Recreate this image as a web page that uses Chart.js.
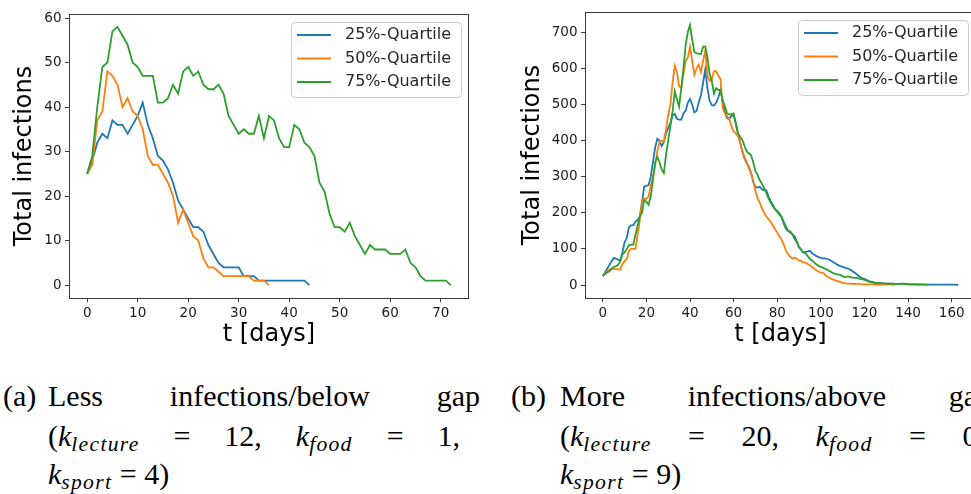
<!DOCTYPE html>
<html lang="en">
<head>
<meta charset="UTF-8">
<title>Total infections per quartile</title>
<script src="https://cdn.jsdelivr.net/npm/chart.js"></script>
<style>
  html, body { margin: 0; padding: 0; background: #fff; overflow: hidden; }
  body { width: 971px; height: 494px; position: relative; }
  .plot { position: absolute; top: 0; }
  .cap {
    position: absolute;
    font-family: "Liberation Serif", "Times New Roman", serif;
    font-size: 30px;
    line-height: 30px;
    color: #000;
    white-space: nowrap;
  }
  .row { display: flex; justify-content: space-between; }
  .cap sub {
    font-size: 0.72em;
    font-style: italic;
    vertical-align: -0.22em;
    line-height: 0;
    letter-spacing: 0.06em;
  }
</style>
</head>
<body>
  <div class="plot" style="left:0px"><canvas id="chartLess" width="480" height="360"></canvas></div>
  <div class="plot" style="left:490px"><canvas id="chartMore" width="500" height="360"></canvas></div>

  <!-- captions (a) -->
  <div class="cap" style="left:3px; top:381px">(a)</div>
  <div class="cap row" style="left:48px; top:381px; width:432px"><span>Less</span><span>infections/below</span><span>gap</span></div>
  <div class="cap row" style="left:48px; top:421px; width:412px"><span>(<i>k</i><sub>lecture</sub></span><span>=</span><span>12,</span><span><i>k</i><sub>food</sub></span><span>=</span><span>1,</span></div>
  <div class="cap" style="left:48px; top:459px"><i>k</i><sub>sport</sub> = 4)</div>

  <!-- captions (b) -->
  <div class="cap" style="left:511px; top:381px">(b)</div>
  <div class="cap row" style="left:560px; top:381px; width:432px"><span>More</span><span>infections/above</span><span>gap</span></div>
  <div class="cap row" style="left:560px; top:421px; width:425px"><span>(<i>k</i><sub>lecture</sub></span><span>=</span><span>20,</span><span><i>k</i><sub>food</sub></span><span>=</span><span>0,</span></div>
  <div class="cap" style="left:560px; top:459px"><i>k</i><sub>sport</sub> = 9)</div>

<script>
// series names and colours (matplotlib defaults)
const seriesNames = ['25%-Quartile', '50%-Quartile', '75%-Quartile'];
const seriesColors = ['#1f77b4', '#ff7f0e', '#2ca02c'];

// (a) less infections: one value per day, starting at day 0
const lessQ25 = [25,28,32,34,33,37,36,36,34,36, 38,41,36,33,29,28,26,23,19,17,
  15,13,13,12,9,7,5,4,4,4, 4,2,2,2,1,1,1,1,1,1, 1,1,1,1,0];
const lessQ50 = [25,27,37,39,48,47,45,40,42,39, 38,35,29,27,27,25,23,20,14,17,
  14,11,10,6,4,4,3,2,2,2, 2,2,2,1,1,1,0];
const lessQ75 = [25,29,40,49,50,57,58,56,54,50, 49,47,47,47,41,41,42,45,43,48,
  49,47,48,45,44,44,45,43,38,36, 34,35,34,34,38,33,38,37,33,31,
  31,36,35,32,31,29,23,21,16,13, 13,12,14,11,9,7,9,8,8,8,
  7,7,7,8,5,4,2,1,1,1, 1,1,0];
const lessXTicks = [0, 10, 20, 30, 40, 50, 60, 70];
const lessYTicks = [0, 10, 20, 30, 40, 50, 60];

// (b) more infections
const moreQ25 = [25,35,45,55,65,75,73,70,68,90, 118,130,160,165,166,175,180,190,230,272,
  275,276,300,340,380,405,400,385,395,420, 435,448,470,474,460,458,458,475,482,505,
  515,500,478,482,505,525,560,597,545,510, 498,497,505,520,540,510,480,462,460,468,
  470,450,418,395,370,350,338,328,310,285, 272,270,272,265,262,262,245,232,222,210,
  205,198,188,170,155,150,148,140,128,118, 105,98,90,92,93,95,88,84,80,77,
  75,74,74,72,70,66,62,58,55,52, 50,48,46,44,40,36,32,27,22,18,
  17,14,11,9,8,6,6,5,5,4, 4,4,4,4,3,3,3,4,4,3,
  3,2,2,2,2,2,2,2,1,1, 1,1,1,1,1,1,1,1,1,1, 1,1,1,0];
const moreQ50 = [25,32,38,42,46,45,44,43,42,58, 66,72,95,100,100,100,140,180,235,240,
  238,245,275,300,330,370,395,400,398,430, 470,500,560,607,590,550,545,585,620,630,
  660,620,582,600,610,590,620,650,580,565, 570,592,592,580,570,490,475,468,460,440,
  425,420,412,395,370,355,340,322,310,290, 260,240,228,212,200,190,182,175,165,155,
  145,135,125,112,95,85,78,73,76,72, 68,66,62,62,58,55,50,45,40,37,
  34,34,28,23,20,17,14,12,10,8, 6,5,4,4,3,3,3,3,3,2,
  2,2,2,2,2,2,1,1,1,1, 1,1,1,1,0];
const moreQ75 = [25,30,35,38,44,50,52,56,65,85, 90,100,110,112,112,140,165,190,200,235,
  230,222,245,290,340,355,340,320,310,360, 400,440,480,536,515,494,545,600,665,700,
  720,680,645,642,640,640,660,660,630,585, 565,530,545,540,540,510,495,475,472,473,
  475,445,420,410,402,385,370,365,360,340, 315,305,290,280,268,255,240,228,218,210,
  202,195,188,175,162,150,145,140,135,120, 105,97,90,88,80,72,68,62,57,53,
  50,48,45,42,39,35,32,30,29,28, 24,22,23,23,21,20,20,19,17,16,
  14,12,9,8,7,6,6,5,5,4, 4,4,4,3,3,3,3,3,3,2,
  2,2,2,2,1,1,1,1,1,1];
const moreXTicks = [0, 20, 40, 60, 80, 100, 120, 140, 160];
const moreYTicks = [0, 100, 200, 300, 400, 500, 600, 700];

const inkColor = '#1a1a1a';

// axes box on all four sides + matplotlib-like legend in the upper right
const frameAndLegend = {
  id: 'frameAndLegend',
  afterDatasetsDraw(chart) {
    const {ctx, chartArea: a} = chart;
    ctx.save();
    ctx.strokeStyle = '#3a3a3a';
    ctx.lineWidth = 1;
    ctx.strokeRect(a.left + 0.5, a.top + 0.5, a.right - a.left - 1, a.bottom - a.top);
    ctx.restore();
  },
  afterDraw(chart) {
    const {ctx, chartArea: a} = chart;
    const ds = chart.data.datasets;
    ctx.save();
    ctx.font = '16px "DejaVu Sans"';
    const textW = Math.max(...ds.map(d => ctx.measureText(d.label).width));
    const w = 54 + textW + 10, h = 75;
    const x0 = a.right - 8 - w, y0 = a.top + 8;
    ctx.beginPath();
    ctx.roundRect(x0 + 0.5, y0 + 0.5, w, h, 4);
    ctx.fillStyle = 'rgba(255,255,255,0.8)';
    ctx.fill();
    ctx.strokeStyle = '#cccccc';
    ctx.lineWidth = 1;
    ctx.stroke();
    ds.forEach((d, i) => {
      const y = y0 + 13 + i * 23.5;
      ctx.beginPath();
      ctx.moveTo(x0 + 6, y);
      ctx.lineTo(x0 + 40, y);
      ctx.strokeStyle = d.borderColor;
      ctx.lineWidth = 2;
      ctx.stroke();
      ctx.fillStyle = '#262626';
      ctx.textBaseline = 'middle';
      ctx.textAlign = 'left';
      ctx.fillText(d.label, x0 + 54, y);
    });
    ctx.restore();
  }
};

function makeChart(id, series, setup) {
  const datasets = series.map((vals, i) => ({
    label: seriesNames[i],
    data: vals.map((v, day) => ({x: day, y: v})),
    borderColor: seriesColors[i],
    backgroundColor: seriesColors[i],
    borderWidth: 1.8,
    pointRadius: 0,
    tension: 0,
    order: 3 - i
  }));
  const tickFont = {family: 'DejaVu Sans', size: 13.5};
  const titleFont = {family: 'DejaVu Sans', size: 24};
  return new Chart(document.getElementById(id), {
    type: 'line',
    data: {datasets},
    options: {
      responsive: false,
      animation: false,
      layout: {padding: setup.padding},
      plugins: {legend: {display: false}, tooltip: {enabled: false}},
      scales: {
        x: {
          type: 'linear',
          min: setup.xMin, max: setup.xMax,
          afterBuildTicks: s => { s.ticks = setup.xTicks.map(v => ({value: v})); },
          afterFit: s => { s.height = 62; s.paddingLeft = 0; s.paddingRight = 0; },
          ticks: {font: tickFont, color: inkColor, padding: 3, maxRotation: 0, autoSkip: false},
          grid: {drawOnChartArea: false, drawTicks: true, tickLength: 4, tickColor: '#3a3a3a'},
          border: {display: false},
          title: {display: true, text: 't [days]', font: titleFont, color: '#000', padding: {top: 0, bottom: 10.6}}
        },
        y: {
          min: setup.yMin, max: setup.yMax,
          afterBuildTicks: s => { s.ticks = setup.yTicks.map(v => ({value: v})); },
          afterFit: s => { s.width = setup.yWidth; s.paddingTop = 0; s.paddingBottom = 0; },
          ticks: {font: tickFont, color: inkColor, padding: 3.5, autoSkip: false},
          grid: {drawOnChartArea: false, drawTicks: true, tickLength: 4, tickColor: '#3a3a3a'},
          border: {display: false},
          title: {display: true, text: 'Total infections', font: titleFont, color: '#000', padding: {top: setup.yTitlePad, bottom: 0}}
        }
      }
    },
    plugins: [frameAndLegend]
  });
}

makeChart('chartLess', [lessQ25, lessQ50, lessQ75], {
  xMin: -3.6, xMax: 75.6, yMin: -2.9, yMax: 60.9,
  xTicks: lessXTicks, yTicks: lessYTicks,
  yWidth: 69, yTitlePad: 10.6,
  padding: {left: 0, top: 14, right: 11, bottom: 0}
});

makeChart('chartMore', [moreQ25, moreQ50, moreQ75], {
  xMin: -8.15, xMax: 171.15, yMin: -36, yMax: 756,
  xTicks: moreXTicks, yTicks: moreYTicks,
  yWidth: 95, yTitlePad: 28.3,
  padding: {left: 0, top: 12, right: 14, bottom: 0}
});
</script>
</body>
</html>
